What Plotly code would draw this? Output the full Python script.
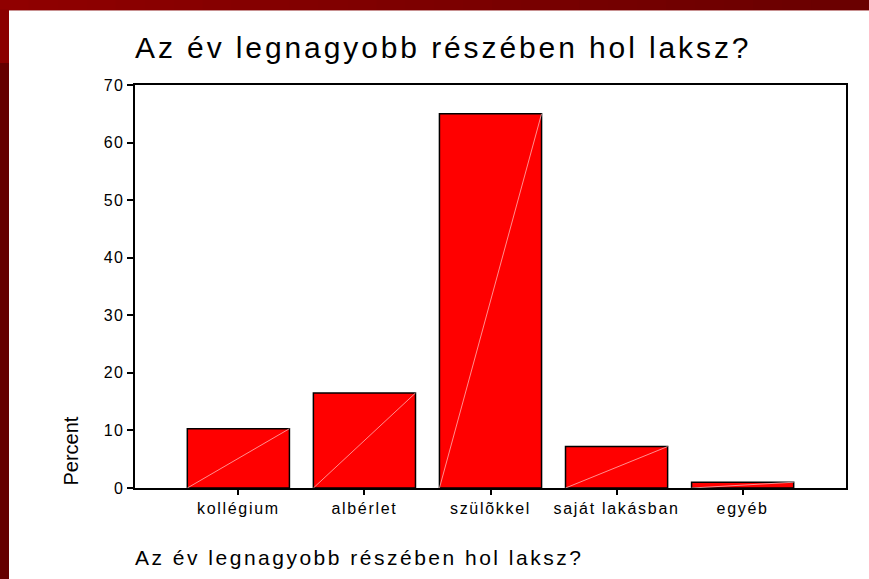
import plotly.graph_objects as go

categories = ["kollégium", "albérlet", "szülõkkel", "saját lakásban", "egyéb"]
percent = [10.3, 16.5, 65.0, 7.2, 1.0]
y_ticks = [0, 10, 20, 30, 40, 50, 60, 70]

W, H = 869, 579
L, R, T, B = 135, 846, 85, 488
bar_w = 0.81
FONT = "Liberation Sans, Arial, sans-serif"

def px_x(px):
    return (px - L) / (R - L)

def px_y(py):
    return (B - py) / (B - T)

def spaced(s, sp):
    return f'<span style="letter-spacing:{sp}px">{s}</span>'

xs = list(range(len(categories)))

fig = go.Figure()
fig.add_trace(go.Bar(
    x=xs, y=percent, width=bar_w,
    marker=dict(color="#FF0000", line=dict(color="black", width=1.5)),
    hoverinfo="skip", showlegend=False,
))

# faint diagonal artifact lines inside bars
dx, dy = [], []
for x, v in zip(xs, percent):
    dx += [x - bar_w / 2, x + bar_w / 2, None]
    dy += [0, v, None]
fig.add_trace(go.Scatter(
    x=dx, y=dy, mode="lines",
    line=dict(color="rgba(255,190,190,0.75)", width=1),
    hoverinfo="skip", showlegend=False,
))

shapes = []
# top bar gradient
n = 30
for i in range(n):
    x0 = i * W / n
    x1 = (i + 1) * W / n + 1
    t = i / (n - 1)
    r = int(0x90 + (0x6A - 0x90) * t)
    shapes.append(dict(type="rect", xref="paper", yref="paper",
                       x0=px_x(x0), x1=px_x(x1), y0=px_y(10), y1=px_y(-1),
                       fillcolor=f"rgb({r},0,0)", line=dict(width=0), layer="above"))
shapes.append(dict(type="line", xref="paper", yref="paper",
                   x0=px_x(9), x1=px_x(W), y0=px_y(10.5), y1=px_y(10.5),
                   line=dict(color="#C89090", width=1)))
# left strip
shapes.append(dict(type="rect", xref="paper", yref="paper",
                   x0=px_x(-1), x1=px_x(9), y0=px_y(63), y1=px_y(9),
                   fillcolor="#8B0000", line=dict(width=0)))
shapes.append(dict(type="rect", xref="paper", yref="paper",
                   x0=px_x(-1), x1=px_x(9), y0=px_y(H + 1), y1=px_y(63),
                   fillcolor="#650000", line=dict(width=0)))

title_text = "Az év legnagyobb részében hol laksz?"

annotations = [
    dict(text=spaced(title_text, 2.9), xref="paper", yref="paper",
         x=px_x(133), y=px_y(47), xanchor="left", yanchor="middle",
         showarrow=False, font=dict(family=FONT, size=30, color="black")),
    dict(text=spaced(title_text, 2.5), xref="paper", yref="paper",
         x=px_x(133), y=px_y(557), xanchor="left", yanchor="middle",
         showarrow=False, font=dict(family=FONT, size=21, color="black")),
    dict(text="Percent", xref="paper", yref="paper", textangle=-90,
         x=px_x(70), y=px_y(488), xanchor="center", yanchor="bottom",
         showarrow=False, font=dict(family=FONT, size=20, color="black")),
]

fig.update_layout(
    width=W, height=H,
    margin=dict(l=L, r=W - R, t=T, b=H - B, pad=0),
    paper_bgcolor="white", plot_bgcolor="white",
    shapes=shapes, annotations=annotations,
    hovermode=False,
    xaxis=dict(range=[-0.82, 4.82], tickvals=xs,
               ticktext=[spaced(c, 1.7) for c in categories],
               showline=True, mirror=True, linecolor="black", linewidth=1.5,
               ticks="outside", ticklen=5, tickcolor="black", tickwidth=1.5,
               showgrid=False, zeroline=False,
               tickfont=dict(family=FONT, size=16, color="black")),
    yaxis=dict(range=[0, 70], tickvals=y_ticks,
               ticktext=[spaced(str(v), 1.2) for v in y_ticks],
               showline=True, mirror=True, linecolor="black", linewidth=1.5,
               ticks="outside", ticklen=6, tickcolor="black", tickwidth=1.5,
               showgrid=False, zeroline=False,
               tickfont=dict(family=FONT, size=16, color="black")),
)

fig.write_html(
    "out.html",
    config={"displayModeBar": False},
    post_script="document.body.style.margin='0';document.body.style.overflow='hidden';",
)
